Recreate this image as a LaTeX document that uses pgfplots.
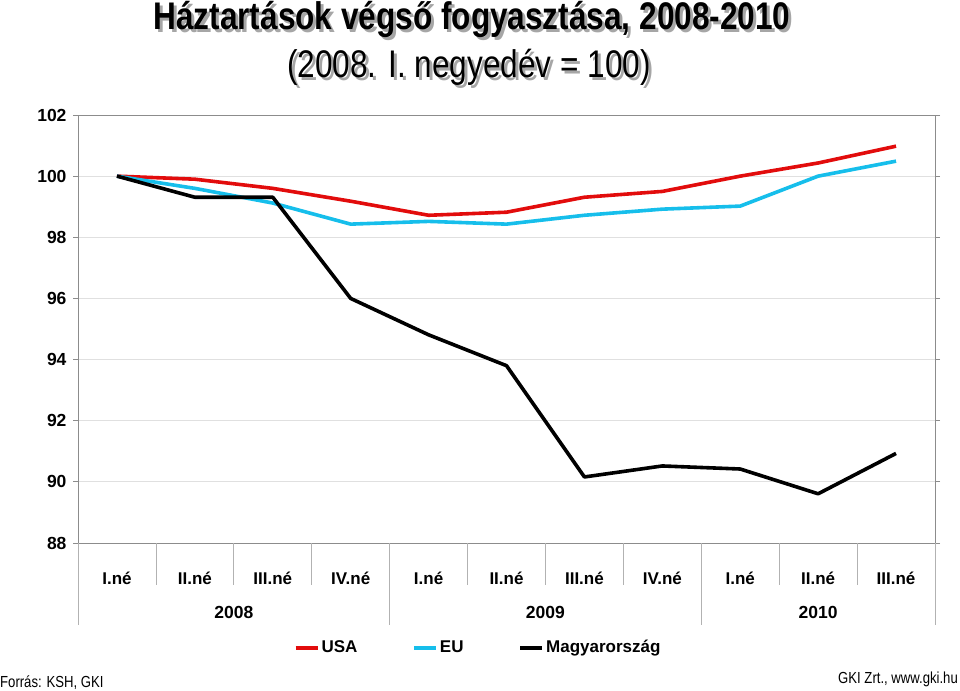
\documentclass[border=0pt]{standalone}
\usepackage{fontspec}
\setmainfont[FakeStretch=0.82]{Liberation Sans}
\newfontfamily\plainfont{Liberation Sans}
\usepackage{pgfplots}
\pgfplotsset{compat=1.18}
\definecolor{usared}{RGB}{226,12,12}
\definecolor{eucyan}{RGB}{22,190,235}
\begin{document}
\begin{tikzpicture}
\path[use as bounding box] (0pt,0pt) rectangle (960pt,690pt);
% title with shadow
\node[anchor=base,inner sep=0,text=black!35] at (475pt,657pt) {\fontsize{38.5}{42}\selectfont\bfseries Háztartások végső fogyasztása, 2008-2010};
\node[anchor=base,inner sep=0] at (472pt,660pt) {\fontsize{38.5}{42}\selectfont\bfseries Háztartások végső fogyasztása, 2008-2010};
\node[anchor=base,inner sep=0,text=black!35] at (472pt,609pt) {\fontsize{38.5}{42}\selectfont (2008. I. negyedév = 100)};
\node[anchor=base,inner sep=0] at (469pt,612pt) {\fontsize{38.5}{42}\selectfont (2008. I. negyedév = 100)};
% footer
\node[anchor=base west,inner sep=0] at (0pt,3pt) {\fontsize{16}{18}\selectfont Forrás: KSH, GKI};
\node[anchor=base east,inner sep=0] at (958pt,6pt) {\fontsize{16}{18}\selectfont GKI Zrt., www.gki.hu};
\begin{axis}[
  at={(78pt,147pt)}, anchor=south west,
  scale only axis, width=857pt, height=428pt,
  xmin=-0.5, xmax=10.5, ymin=88, ymax=102,
  ytick={88,90,...,102},
  xtick={0,...,10},
  xticklabels={I.né,II.né,III.né,IV.né,I.né,II.né,III.né,IV.né,I.né,II.né,III.né},
  /pgf/number format/assume math mode=true,
  axis line style={draw=black!45, line width=0.8pt},
  ymajorgrids, grid style={draw=black!12, line width=0.8pt},
  tick align=outside, major tick length=5pt,
  xtick style={draw=none},
  ytick style={draw=black!45, line width=0.8pt},
  yticklabel style={font=\plainfont\fontsize{17.5}{20}\selectfont\bfseries, xshift=-3pt},
  xticklabel style={font=\plainfont\fontsize{17}{20}\selectfont\bfseries, anchor=center, yshift=-30pt},
  clip=false,
  legend columns=3,
  legend style={draw=none, fill=none, at={(0.467,-0.245)}, anchor=center,
    font=\plainfont\fontsize{17}{20}\selectfont\bfseries,
    nodes={text height=12.5pt, text depth=3.5pt},
    /tikz/every even column/.append style={column sep=53pt}},
  legend image code/.code={\draw[#1] (0pt,0pt) -- (22pt,0pt);},
  every axis plot/.append style={line width=3.6pt, line join=round},
]
\addplot[usared] coordinates {(0,100) (1,99.9) (2,99.6) (3,99.18) (4,98.72) (5,98.82) (6,99.31) (7,99.5) (8,100.0) (9,100.43) (10,100.98)};
\addplot[eucyan] coordinates {(0,100) (1,99.6) (2,99.12) (3,98.43) (4,98.52) (5,98.43) (6,98.72) (7,98.92) (8,99.02) (9,100.0) (10,100.49)};
\addplot[black] coordinates {(0,100) (1,99.31) (2,99.31) (3,96.0) (4,94.81) (5,93.8) (6,90.16) (7,90.52) (8,90.42) (9,89.61) (10,90.93)};
\legend{USA,EU,Magyarország}
% separators
\draw[black!30, line width=0.8pt] (axis cs:0.5,88) -- ++(0pt,-42pt);
\draw[black!30, line width=0.8pt] (axis cs:1.5,88) -- ++(0pt,-42pt);
\draw[black!30, line width=0.8pt] (axis cs:2.5,88) -- ++(0pt,-42pt);
\draw[black!30, line width=0.8pt] (axis cs:4.5,88) -- ++(0pt,-42pt);
\draw[black!30, line width=0.8pt] (axis cs:5.5,88) -- ++(0pt,-42pt);
\draw[black!30, line width=0.8pt] (axis cs:6.5,88) -- ++(0pt,-42pt);
\draw[black!30, line width=0.8pt] (axis cs:8.5,88) -- ++(0pt,-42pt);
\draw[black!30, line width=0.8pt] (axis cs:9.5,88) -- ++(0pt,-42pt);
\draw[black!30, line width=0.8pt] (axis cs:-0.5,88) -- ++(0pt,-82pt);
\draw[black!30, line width=0.8pt] (axis cs:3.5,88) -- ++(0pt,-82pt);
\draw[black!30, line width=0.8pt] (axis cs:7.5,88) -- ++(0pt,-82pt);
\draw[black!30, line width=0.8pt] (axis cs:10.5,88) -- ++(0pt,-82pt);
\node[font=\plainfont\fontsize{17.5}{20}\selectfont\bfseries] at ([yshift=-69pt]axis cs:1.5,88) {2008};
\node[font=\plainfont\fontsize{17.5}{20}\selectfont\bfseries] at ([yshift=-69pt]axis cs:5.5,88) {2009};
\node[font=\plainfont\fontsize{17.5}{20}\selectfont\bfseries] at ([yshift=-69pt]axis cs:9,88) {2010};
\end{axis}
\end{tikzpicture}
\end{document}
